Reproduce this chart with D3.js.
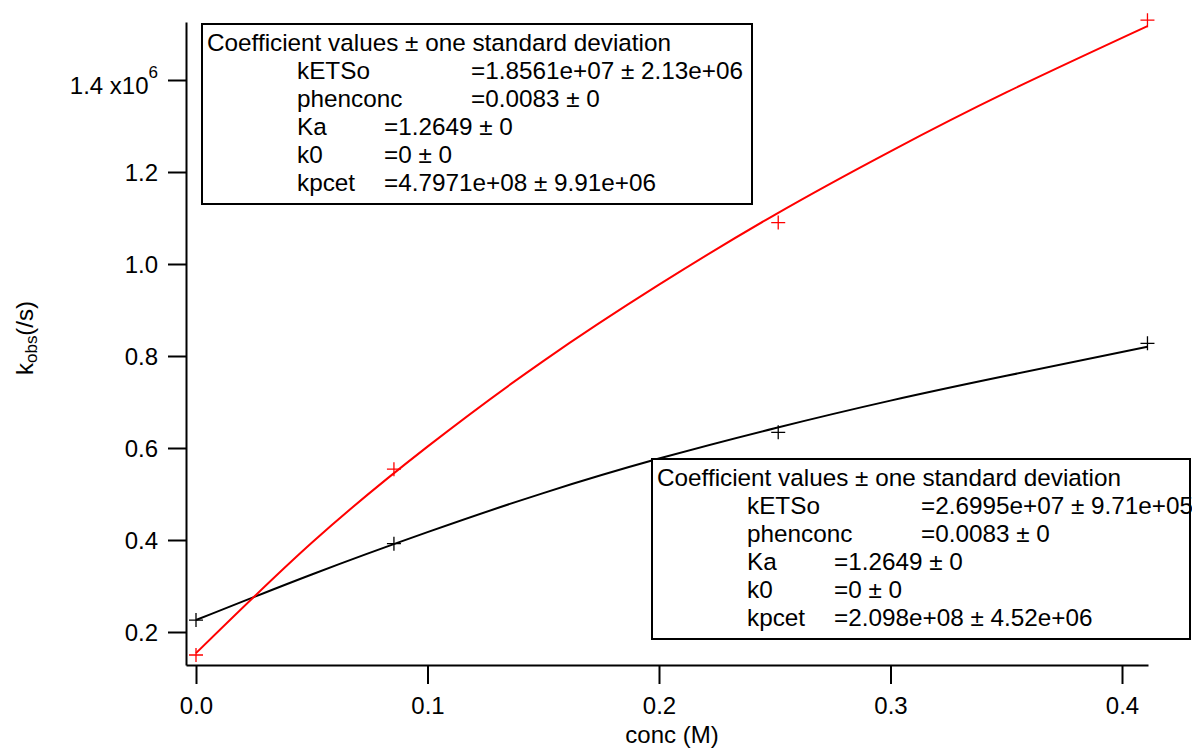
<!DOCTYPE html>
<html>
<head>
<meta charset="utf-8">
<script src="https://cdn.jsdelivr.net/npm/d3@7"></script>
<style>
  html, body { margin: 0; padding: 0; background: #fff; }
  svg { display: block; }
  text { font-family: "Liberation Sans", Arial, sans-serif; fill: #000; }
</style>
</head>
<body>
<svg id="chart" width="1192" height="751"></svg>
<script>
// ---------- data ----------
const concData = [0, 0.0855, 0.2515, 0.411];
const redData = [0.150e6, 0.554e6, 1.090e6, 1.530e6];
const blackData = [0.226e6, 0.392e6, 0.634e6, 0.8275e6];

const fitX = [0, 0.05, 0.1, 0.15, 0.2, 0.25, 0.3, 0.35, 0.411];
const redFitY = [0.154e6, 0.394e6, 0.603e6, 0.789e6, 0.955e6, 1.107e6, 1.245e6, 1.373e6, 1.517e6];
const blackFitY = [0.226e6, 0.325e6, 0.417e6, 0.502e6, 0.577e6, 0.643e6, 0.703e6, 0.757e6, 0.820e6];

const xTicks = [0, 0.1, 0.2, 0.3, 0.4];
const xTickLabels = ["0.0", "0.1", "0.2", "0.3", "0.4"];
const yTicks = [0.2e6, 0.4e6, 0.6e6, 0.8e6, 1.0e6, 1.2e6, 1.4e6];
const yTickLabels = ["0.2", "0.4", "0.6", "0.8", "1.0", "1.2", "1.4"];
const yExponentText = " x10";
const yExponent = "6";

const xTitle = "conc (M)";
const yTitleMain = "k", yTitleSub = "obs", yTitleTail = "(/s)";

const boxHeader = "Coefficient values \u00b1 one standard deviation";
const topNames = ["kETSo", "phenconc", "Ka", "k0", "kpcet"];
const topValues = ["=1.8561e+07 \u00b1 2.13e+06", "=0.0083 \u00b1 0", "=1.2649 \u00b1 0", "=0 \u00b1 0", "=4.7971e+08 \u00b1 9.91e+06"];
const botNames = ["kETSo", "phenconc", "Ka", "k0", "kpcet"];
const botValues = ["=2.6995e+07 \u00b1 9.71e+05", "=0.0083 \u00b1 0", "=1.2649 \u00b1 0", "=0 \u00b1 0", "=2.098e+08 \u00b1 4.52e+06"];

// ---------- layout ----------
const svg = d3.select("#chart");
svg.append("rect").attr("width", 1192).attr("height", 751).attr("fill", "#fff");

const plotL = 186, plotR = 1148, plotT = 22, plotB = 665;
const x = d3.scaleLinear().domain([-0.00432, 0.41123]).range([plotL, plotR]);
const y = d3.scaleLinear().domain([0.12826e6, 1.52609e6]).range([plotB, plotT]);

const FONT = 24;
const BOXFONT = 24.3;

// ---------- fit curves ----------
const line = d3.line().x(d => x(d[0])).y(d => y(d[1])).curve(d3.curveNatural);
svg.append("path").datum(d3.zip(fitX, blackFitY))
  .attr("d", line).attr("fill", "none").attr("stroke", "#000").attr("stroke-width", 2);
svg.append("path").datum(d3.zip(fitX, redFitY))
  .attr("d", line).attr("fill", "none").attr("stroke", "#ff0000").attr("stroke-width", 2);

// ---------- markers ----------
const plus = "M-7,0H7M0,-7V7";
function markers(ys, color) {
  svg.append("g").selectAll("path").data(d3.zip(concData, ys)).join("path")
    .attr("transform", d => `translate(${x(d[0])},${y(d[1])})`)
    .attr("d", plus).attr("stroke", color).attr("stroke-width", 1.3).attr("fill", "none");
}
markers(blackData, "#000");
markers(redData, "#ff0000");

// ---------- axes ----------
const xAxis = d3.axisBottom(x).tickValues(xTicks)
  .tickFormat((d, i) => xTickLabels[i]).tickSize(19).tickSizeOuter(0).tickPadding(13);
const gx = svg.append("g").attr("transform", `translate(0,${plotB})`).call(xAxis);
const yAxis = d3.axisLeft(y).tickValues(yTicks)
  .tickFormat((d, i) => yTickLabels[i]).tickSize(18).tickSizeOuter(0).tickPadding(10);
const gy = svg.append("g").attr("transform", `translate(${plotL},0)`).call(yAxis);

[gx, gy].forEach(g => {
  g.select(".domain").attr("stroke", "#000").attr("stroke-width", 2);
  g.selectAll(".tick line").attr("stroke", "#000").attr("stroke-width", 2);
  g.selectAll(".tick text").attr("font-family", null).attr("font-size", FONT).attr("fill", "#000");
});
gy.selectAll(".tick text").attr("dy", "0.36em");

// exponent on top y label
const topTick = gy.selectAll(".tick text").filter((d, i) => i === yTicks.length - 1);
topTick.text(null).attr("dy", "0.55em");
topTick.append("tspan").text(yTickLabels[yTickLabels.length - 1] + yExponentText);
topTick.append("tspan").text(yExponent).attr("font-size", 17).attr("dy", -16);

// axis titles
svg.append("text").attr("x", 672).attr("y", 743).attr("text-anchor", "middle")
  .attr("font-size", FONT).text(xTitle);
const yt = svg.append("text").attr("text-anchor", "middle")
  .attr("transform", "translate(33,338) rotate(-90)").attr("font-size", FONT);
yt.append("tspan").text(yTitleMain);
yt.append("tspan").text(yTitleSub).attr("font-size", 17).attr("dy", 4);
yt.append("tspan").text(yTitleTail).attr("dy", -4);

// ---------- fit report boxes ----------
function report(bx, by, bw, bh, names, values) {
  const g = svg.append("g");
  g.append("rect").attr("x", bx).attr("y", by).attr("width", bw).attr("height", bh)
    .attr("fill", "#fff").attr("stroke", "#000").attr("stroke-width", 2);
  const tx = bx + 5, lineH = 28, first = by + 27;
  g.append("text").attr("x", tx).attr("y", first).attr("font-size", BOXFONT).text(boxHeader);
  const labelX = tx + 90, tabW = 87;
  names.forEach((n, i) => {
    const yy = first + lineH * (i + 1);
    const t = g.append("text").attr("x", labelX).attr("y", yy).attr("font-size", BOXFONT).text(n);
    const end = labelX + t.node().getComputedTextLength();
    let vx = labelX + tabW;
    while (vx < end + 20) vx += tabW;
    g.append("text").attr("x", vx).attr("y", yy).attr("font-size", BOXFONT).text(values[i]);
  });
}
report(202, 24, 550, 180, topNames, topValues);
report(652, 459, 538, 180, botNames, botValues);
</script>
</body>
</html>
